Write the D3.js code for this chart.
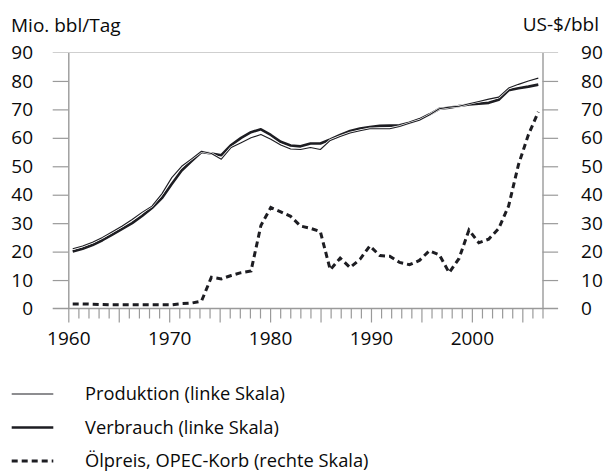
<!DOCTYPE html>
<html>
<head>
<meta charset="utf-8">
<script src="https://cdn.jsdelivr.net/npm/d3@7"></script>
<style>
  body { margin: 0; background: #fff; }
  svg { display: block; font-family: "Open Sans", sans-serif; }
  .labelText { fill: #0a0a0a; }
</style>
</head>
<body>
<svg id="chart" width="606" height="473"></svg>
<script>
// years 1960..2007
var years = d3.range(1960, 2008);

// Mio. bbl/Tag
var produktion = [21.0, 22.0, 23.3, 25.0, 27.0, 29.0, 31.3, 33.8, 36.0, 40.3,
                  46.0, 50.0, 52.6, 55.3, 54.5, 52.5, 56.6, 58.3, 60.0, 61.2,
                  59.5, 57.5, 56.1, 55.9, 56.6, 55.9, 59.1, 60.5, 61.7, 62.5,
                  63.2, 63.2, 63.2, 64.0, 65.1, 66.2, 68.0, 70.2, 70.8, 71.1,
                  72.0, 72.8, 73.6, 74.3, 77.5, 78.8, 80.0, 81.0];
var verbrauch  = [20.0, 21.0, 22.3, 24.0, 26.0, 28.0, 30.0, 32.5, 35.3, 38.8,
                  43.8, 48.5, 51.8, 55.0, 54.5, 53.9, 57.5, 60.0, 62.0, 63.0,
                  61.0, 58.6, 57.3, 57.0, 58.0, 58.0, 59.4, 61.0, 62.4, 63.3,
                  63.8, 64.2, 64.3, 64.4, 65.3, 66.5, 68.2, 70.2, 70.6, 71.2,
                  71.7, 72.0, 72.3, 73.4, 76.7, 77.4, 78.0, 78.7];
// US-$/bbl
var oelpreis   = [1.6, 1.6, 1.5, 1.4, 1.3, 1.3, 1.3, 1.3, 1.3, 1.3,
                  1.3, 1.7, 1.9, 2.6, 11.0, 10.4, 11.6, 12.6, 13.2, 29.2,
                  35.5, 34.0, 32.4, 29.0, 28.2, 27.0, 13.6, 17.7, 14.4, 17.3,
                  22.0, 18.6, 18.4, 16.2, 15.4, 16.9, 20.3, 18.9, 12.6, 17.6,
                  27.6, 23.1, 24.4, 28.1, 36.0, 50.6, 61.1, 69.1];

var yTicks = d3.range(0, 100, 10);
var legendLabels = ["Produktion (linke Skala)", "Verbrauch (linke Skala)", "\u00d6lpreis, OPEC-Korb (rechte Skala)"];

var svg = d3.select("#chart");

var axis_left = 68.3, axis_right = 542.5, plot_top = 52.5, plot_bottom = 308.5;
var line_color = "#1d1d22", axis_color = "#9a9a9a";
var font_size = 19;

var y_left = d3.scaleLinear().domain([0, 90]).range([plot_bottom, plot_top]);
var y_right = d3.scaleLinear().domain([0, 90]).range([plot_bottom, plot_top]);
var x_axis = d3.scaleLinear().domain([1960, 2007]).range([axis_left, axis_right]);
// the curves sit a little inside the axis frame
var x_data = d3.scaleLinear().domain([1960, 2007]).range([72.7, 538.3]);

// top line (90) and baseline (0)
svg.append("line")
    .attr("x1", axis_left - 15.6).attr("x2", axis_right + 15.6)
    .attr("y1", y_left(90)).attr("y2", y_left(90))
    .attr("stroke", "#cfcfcf").attr("stroke-width", 1.2);
svg.append("line")
    .attr("x1", axis_left - 15.6).attr("x2", axis_right + 15.6)
    .attr("y1", y_left(0)).attr("y2", y_left(0))
    .attr("stroke", axis_color).attr("stroke-width", 1.4);

// left axis
var gl = svg.append("g")
    .attr("transform", "translate(" + axis_left + ",0)")
    .call(d3.axisLeft(y_left).tickValues(yTicks).tickSizeInner(15.6).tickSizeOuter(0).tickPadding(19.7));
// right axis
var gr = svg.append("g")
    .attr("transform", "translate(" + axis_right + ",0)")
    .call(d3.axisRight(y_right).tickValues(yTicks).tickSizeInner(15.6).tickSizeOuter(0).tickPadding(23));

[gl, gr].forEach(function(g) {
    g.select(".domain").attr("stroke", axis_color).attr("stroke-width", 1.4);
    g.selectAll(".tick line")
        .attr("stroke", axis_color).attr("stroke-width", 1.2)
        .filter(function(d) { return d == 0 || d == 90; }).remove();
    g.selectAll(".tick text")
        .attr("class", "labelText")
        .attr("font-size", font_size)
        .attr("font-family", "Open Sans, sans-serif");
});

// bottom axis: yearly minor ticks, 5-year ticks longer, labels every decade
var gx_minor = svg.append("g")
    .attr("transform", "translate(0," + plot_bottom + ")")
    .call(d3.axisBottom(x_axis).tickValues(years.filter(function(d) { return d % 5 != 0; }))
        .tickSizeInner(10).tickSizeOuter(0).tickFormat(""));
var gx_major = svg.append("g")
    .attr("transform", "translate(0," + plot_bottom + ")")
    .call(d3.axisBottom(x_axis).tickValues(years.filter(function(d) { return d % 5 == 0; }))
        .tickSizeInner(14).tickSizeOuter(0).tickPadding(9.2)
        .tickFormat(function(d) { return d % 10 == 0 ? d : ""; }));

[gx_minor, gx_major].forEach(function(g) {
    g.select(".domain").remove();
    g.selectAll(".tick line").attr("stroke", axis_color).attr("stroke-width", 1.2);
    g.selectAll(".tick text")
        .attr("class", "labelText")
        .attr("font-size", font_size)
        .attr("font-family", "Open Sans, sans-serif");
});

// unit labels
svg.append("text").attr("class", "labelText")
    .attr("x", 11).attr("y", 32)
    .attr("font-size", font_size)
    .text("Mio. bbl/Tag");
svg.append("text").attr("class", "labelText")
    .attr("x", 599).attr("y", 31)
    .attr("text-anchor", "end")
    .attr("font-size", font_size)
    .text("US-$/bbl");

// series lines
var line_left = d3.line()
    .x(function(d, i) { return x_data(years[i]); })
    .y(function(d) { return y_left(d); });
var line_right = d3.line()
    .x(function(d, i) { return x_data(years[i]); })
    .y(function(d) { return y_right(d); });

svg.append("path")
    .datum(verbrauch)
    .attr("d", line_left)
    .attr("fill", "none")
    .attr("stroke", line_color)
    .attr("stroke-width", 2.6)
    .attr("stroke-linejoin", "round");

svg.append("path")
    .datum(produktion)
    .attr("d", line_left)
    .attr("fill", "none")
    .attr("stroke", "#fff")
    .attr("stroke-width", 2.4)
    .attr("stroke-linejoin", "round");
svg.append("path")
    .datum(produktion)
    .attr("d", line_left)
    .attr("fill", "none")
    .attr("stroke", line_color)
    .attr("stroke-width", 1.1)
    .attr("stroke-linejoin", "round");

svg.append("path")
    .datum(oelpreis)
    .attr("d", line_right)
    .attr("fill", "none")
    .attr("stroke", line_color)
    .attr("stroke-width", 3)
    .attr("stroke-dasharray", "6,4");

// legend
var legend_styles = [
    { width: 1.1, dash: null },
    { width: 2.6, dash: null },
    { width: 3, dash: "6,4" }
];
var legend = svg.selectAll(".legend_item")
    .data(legendLabels)
    .enter().append("g")
    .attr("class", "legend_item")
    .attr("transform", function(d, i) { return "translate(0," + (394 + i * 33.5) + ")"; });

legend.append("line")
    .attr("x1", 11.7).attr("x2", 53.3)
    .attr("y1", 0).attr("y2", 0)
    .attr("stroke", line_color)
    .attr("stroke-width", function(d, i) { return legend_styles[i].width; })
    .attr("stroke-dasharray", function(d, i) { return legend_styles[i].dash; });

legend.append("text")
    .attr("class", "labelText")
    .attr("x", 85).attr("y", 0)
    .attr("dy", "0.35em")
    .attr("font-size", 18.3)
    .text(function(d) { return d; });
</script>
</body>
</html>
